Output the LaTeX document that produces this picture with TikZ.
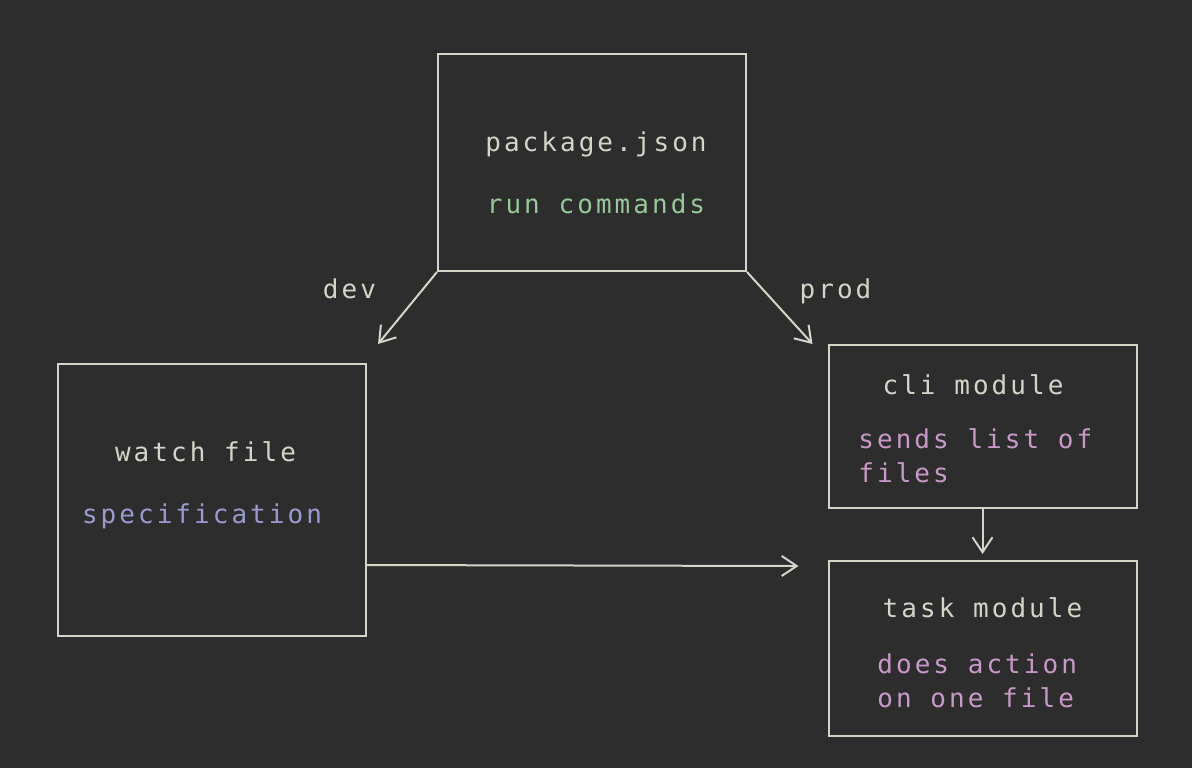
\documentclass[tikz,border=0pt]{standalone}
\usepackage{fontspec}
\setmonofont[LetterSpace=11.7]{DejaVu Sans Mono}
\usetikzlibrary{arrows.meta,calc}
\definecolor{bg}{HTML}{2D2D2D}
\definecolor{fg}{HTML}{D4D4C8}
\definecolor{cmdgreen}{HTML}{98C89A}
\definecolor{specblue}{HTML}{9A9ACF}
\definecolor{notepink}{HTML}{C899C8}
\begin{document}
\begin{tikzpicture}[x=0.5pt,y=-0.5pt]
\tikzset{box/.style = {shape=rectangle,draw=fg,line width=1pt,minimum width=154pt,inner sep=0pt}}
\tikzset{edge/.style = {draw=fg,line width=1pt,->,> = {Straight Barb[length=7.5pt,width=10pt]}}}
\tikzset{txt/.style = {text=fg,font=\ttfamily\fontsize{13}{17}\selectfont,inner sep=0pt,anchor=base}}
\fill[bg] (0,0) rectangle (1192,768);
\useasboundingbox (0,0) rectangle (1192,768);

\foreach \pos/\name/\h in {{(592,162.5)/pkg/108.5pt}, {(212,500)/watch/136pt}, {(982.5,426.5)/cli/81.5pt}, {(982.5,648.5)/task/87.5pt}}
\node[box,minimum height=\h] (\name) at \pos {};

% titles and notes (base of a two line note is its last line)
\node[txt] (pkgtitle) at (596,151) {package.json};
\node[txt,text=cmdgreen] (pkgnote) at (596,213) {run commands};
\node[txt] (watchtitle) at (205.5,461) {watch file};
\node[txt,text=specblue] (watchnote) at (202,523) {specification};
\node[txt] (clititle) at (973,394) {cli module};
\node[txt,text=notepink,align=left,anchor=base west] (clinote) at (858,482) {sends list of\\files};
\node[txt] (tasktitle) at (982.5,617) {task module};
\node[txt,text=notepink,align=left,anchor=base west] (tasknote) at (877,707) {does action\\on one file};
\node[txt] (devlabel) at (349.5,298) {dev};
\node[txt] (prodlabel) at (835.5,298) {prod};

\draw[edge] (pkg.south west) -- ([xshift=5.5pt,yshift=9.5pt]watch.north east);
\draw[edge] (pkg.south east) -- ([xshift=-7.5pt]cli.north west);
\draw[edge,shorten >=3pt] (cli) -- (task);
\draw[edge] ([yshift=-32.5pt]watch.east) -- ([xshift=-14.5pt,yshift=41.25pt]task.west);
\end{tikzpicture}
\end{document}
